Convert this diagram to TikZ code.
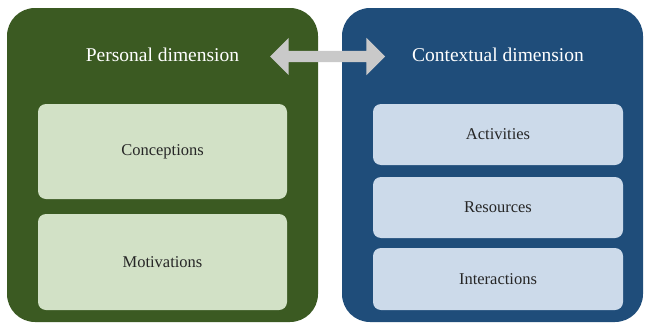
\documentclass[tikz,border=0pt]{standalone}
\usepackage{fontspec}
\setmainfont{Liberation Serif}
\usetikzlibrary{shapes.arrows}
\definecolor{dkgreen}{HTML}{3B5A22}
\definecolor{ltgreen}{HTML}{D2E1C6}
\definecolor{dkblue}{HTML}{1F4D7A}
\definecolor{ltblue}{HTML}{CCDAEA}
\definecolor{arrowgray}{HTML}{C9C9C9}
\tikzset{
  outerbox/.style={rounded corners=28pt},
  innerbox/.style={rounded corners=8pt},
  titletext/.style={text=white, font=\fontsize{19.5}{22}\selectfont},
  itemtext/.style={text=black!85, font=\fontsize{16.5}{19}\selectfont},
}
\begin{document}
\begin{tikzpicture}[x=1pt,y=-1pt]
\path[use as bounding box] (0,0) rectangle (645,324);
% outer boxes
\fill[dkgreen, outerbox] (7,8) rectangle (318,322);
\fill[dkblue, outerbox] (342,8) rectangle (643,322);
% inner boxes
\fill[ltgreen, innerbox] (38,104) rectangle (287,199);
\fill[ltgreen, innerbox] (38,214) rectangle (287,310);
\fill[ltblue, innerbox] (373,104) rectangle (623,165);
\fill[ltblue, innerbox] (373,177) rectangle (623,238);
\fill[ltblue, innerbox] (373,248) rectangle (623,310);
% titles
\node[titletext] (personal) at (162.5,55) {Personal dimension};
\node[titletext] (contextual) at (498,55) {Contextual dimension};
% items
\node[itemtext] (conceptions) at (162.5,151.5) {Conceptions};
\node[itemtext] (motivations) at (162.5,262) {Motivations};
\node[itemtext] (activities) at (498,134.5) {Activities};
\node[itemtext] (resources) at (498,207.5) {Resources};
\node[itemtext] (interactions) at (498,279) {Interactions};
% double arrow
\node[double arrow, fill=arrowgray, draw=none, inner xsep=0pt, inner ysep=5.5pt,
      minimum width=11pt, minimum height=115pt,
      double arrow head extend=13pt, double arrow head indent=0pt,
      shape border rotate=0] (link) at (327.5,56.5) {};
\end{tikzpicture}
\end{document}
